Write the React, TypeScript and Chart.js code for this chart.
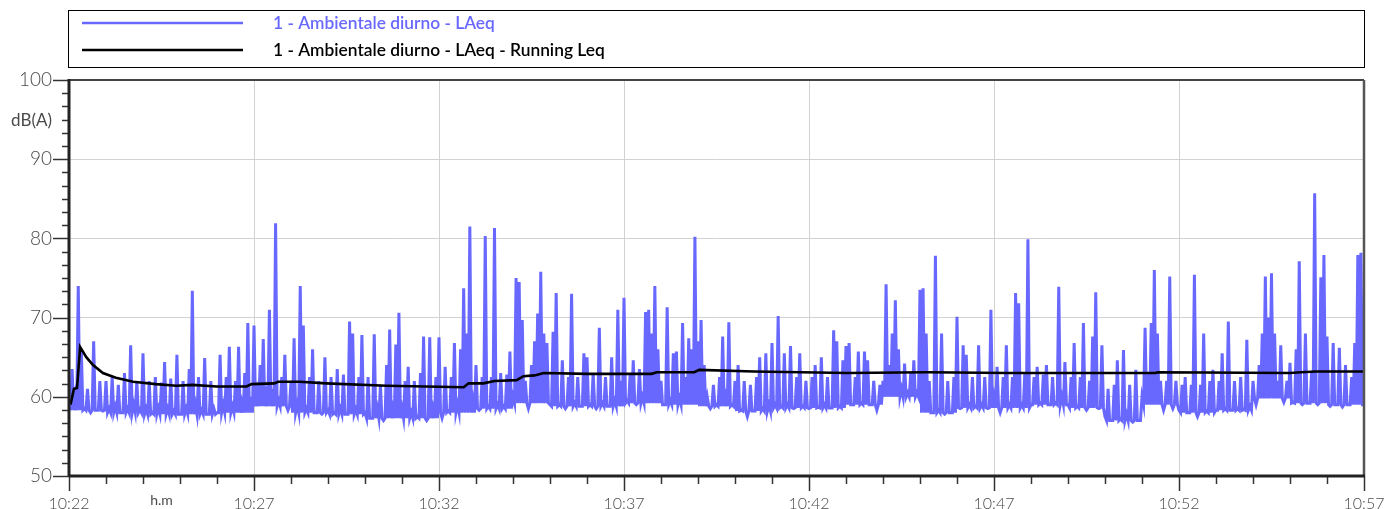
import { useEffect, useRef } from "react";
import { Chart, registerables } from "chart.js";

Chart.register(...registerables);

// ---- data ----
const startHour = 10;
const startMinute = 22;
const sampleStepSeconds = 5;
const xMaxSeconds = 2100;
const yMin = 50;
const yMax = 100;
const yMajorStep = 10;
const yMinorPerMajor = 6;
const xMinorSeconds = 60;
const xMajorSeconds = 300;

const laeqLabel = "1 - Ambientale diurno - LAeq";
const runningLabel = "1 - Ambientale diurno - LAeq - Running Leq";
const yUnitLabel = "dB(A)";
const xUnitLabel = "h.m";

// LAeq readings every 5 s, one row per minute (10:22 ... 10:56) + final reading at 10:57
const laeqValues = [
  59.5, 63.5, 60, 74, 66, 58.5, 61, 58, 67, 58.3, 62, 58.2,
  62, 58.5, 62.5, 58.8, 61.5, 58, 63, 58.5, 66.5, 59, 62, 58.4,
  65.5, 58.5, 62, 58, 62.5, 58.6, 61.8, 64.4, 58.5, 62.3, 58.2, 65.3,
  57.8, 62, 58.5, 63.5, 73.4, 59, 62.5, 58.3, 64.9, 57.8, 62, 58.5,
  58, 65.3, 59, 62.5, 66.3, 58.8, 62, 66.3, 59.2, 63, 69.3, 60,
  69, 60.5, 64, 67.3, 60.2, 71, 61, 81.9, 59.5, 62.5, 65.3, 58.3,
  62, 67.4, 59, 74, 69, 58.5, 62.5, 66, 58, 62, 57.8, 65,
  58.3, 62.5, 58, 63.5, 58.5, 62.8, 57.8, 69.5, 68, 58.4, 62.5, 67.8,
  58, 62.5, 57.3, 67.9, 58.5, 61.5, 57, 64, 68.5, 58.5, 66.6, 70.6,
  58.5, 62, 63.8, 58, 62, 57.5, 63, 67.6, 57, 67.5, 58.5, 62.5,
  67.5, 57.3, 63.8, 58.2, 62.5, 66.8, 59, 66, 73.7, 68, 81.5, 59.5,
  64, 58.3, 62.5, 80.3, 58.8, 62.5, 81.3, 59, 63, 58.8, 62.8, 65.7,
  60, 75, 74.5, 69.7, 62, 58.5, 64, 67, 70.5, 75.8, 68, 66.8,
  59, 68.2, 73.1, 59, 64.6, 58.5, 62.5, 73, 59.2, 62.5, 58.8, 65.5,
  65, 59, 63, 58.5, 68.7, 59.2, 62.5, 58.8, 65, 59.5, 71, 62,
  72.5, 59.5, 63, 64.6, 59, 63.5, 60, 70.7, 71, 68, 74, 66,
  62, 59, 71.3, 59.5, 65.5, 65.7, 59.8, 69.3, 62.5, 67.4, 66, 80.2,
  67, 69.7, 64, 60, 58.5, 61.5, 59, 62.5, 67.6, 60, 69.4, 59,
  62, 64, 58.3, 62, 57.5, 61.5, 58.2, 62.5, 65, 58.5, 65.5, 59,
  66.8, 59, 70.2, 58.8, 65.5, 59, 66.4, 58.5, 62.5, 65.5, 58.8, 62,
  58.5, 62.5, 64, 58.7, 65, 59, 62.5, 58.6, 68.4, 67, 58.8, 64.6,
  66.4, 66.8, 59, 62.5, 65.7, 59.2, 65.7, 64.6, 59, 62, 58.3, 61.5,
  62, 74.2, 64, 68, 72.2, 66, 61, 64.2, 60.5, 63, 64.6, 60.5,
  73.5, 73.7, 68, 62, 58, 77.8, 58.3, 68, 57.8, 62, 58, 62.5,
  70.1, 58.5, 66.5, 65.3, 59, 62.5, 58.8, 66.5, 59, 62.5, 58.5, 71,
  60, 63.8, 58, 62.5, 66.5, 59, 62.5, 73.1, 71.8, 59, 63, 79.9,
  59, 62.5, 63.8, 59.2, 62.8, 64, 59, 62.5, 59.2, 73.9, 60, 64.4,
  59, 62.5, 66.8, 58.8, 62.5, 69.3, 58.3, 62, 67.6, 73.2, 58.5, 66.5,
  57.5, 61, 57, 61.5, 64.6, 57.2, 65.9, 57.8, 61.5, 56.8, 63.4, 57,
  60, 68.7, 63, 69.3, 76, 68, 62, 58.3, 62, 75.2, 58.5, 62,
  58.3, 61.5, 62.5, 58, 61.5, 75.4, 57.5, 61.5, 68, 58.2, 62, 63.4,
  58.3, 62, 65.5, 58.5, 69.5, 58.3, 62, 58.5, 62.5, 58.4, 67.2, 58.8,
  62, 59, 64, 68, 75.2, 70, 75.6, 68, 62, 66.5, 59.3, 62,
  64.3, 59.3, 66, 77.1, 59, 68, 59.2, 63, 85.7, 59, 75.1, 77.9,
  67.6, 58.8, 66.8, 59, 66.2, 58.7, 64, 59, 62.5, 66.8, 77.9, 78.2,
  59,
];

// Lowest LAeq level reached within each minute (fast readings between the 5 s values)
const laeqMinuteFloor = [
  58.3, 58.0, 57.8, 57.8, 58.0, 58.8, 58.0, 57.8, 57.3, 57.3,
  58.0, 58.5, 59.2, 58.8, 58.8, 59.2, 59.0, 58.8, 58.2, 58.6,
  58.6, 59.0, 60.0, 58.0, 58.6, 58.6, 59.0, 58.6, 57.0, 59.0,
  58.0, 58.3, 59.8, 59.2, 59.0,
];

// Running Leq: time (s from 10:22) and level
const runningTimes = [
  0, 3, 8, 13, 18, 28, 39, 55, 76, 104, 141, 174, 200, 239, 288, 296, 333, 339, 374, 417,
  515, 640, 648, 672, 690, 726, 737, 755, 770, 840, 945, 953, 1014, 1022, 1111, 1262,
  1392, 1522, 1684, 1762, 1766, 1980, 1998, 2022, 2100,
];
const runningValues = [
  59.3, 59.2, 61, 61.1, 66.3, 65, 64, 63, 62.4, 61.9, 61.6, 61.4, 61.5, 61.3, 61.3, 61.6, 61.7, 61.9, 61.9, 61.7,
  61.4, 61.2, 61.7, 61.7, 62, 62.1, 62.6, 62.7, 63, 62.9, 62.9, 63.1, 63.1, 63.4, 63.2, 63.0,
  63.1, 63.0, 63.0, 63.0, 63.1, 63.0, 63.1, 63.2, 63.2,
];

// ---- style ----
const blue = "rgb(104,104,255)";
const black = "#000000";
const gridColor = "#d2d2d2";
const tickTextColor = "#4a4a4a";
const fontFamily = "Lato, 'DejaVu Sans', sans-serif";

function fmtTime(seconds: number): string {
  const total = startHour * 60 + startMinute + Math.round(seconds / 60);
  const h = Math.floor(total / 60);
  const m = total % 60;
  return `${h}:${m < 10 ? "0" + m : m}`;
}

function yTickValues(): number[] {
  const out: number[] = [];
  const n = ((yMax - yMin) / yMajorStep) * yMinorPerMajor;
  for (let k = 0; k <= n; k++) out.push(yMin + (k * yMajorStep) / yMinorPerMajor);
  return out;
}
function isYMajor(v: number): boolean {
  const r = Math.round(v);
  return Math.abs(v - r) < 1e-6 && r % yMajorStep === 0;
}
function xTickValues(): number[] {
  const out: number[] = [];
  for (let s = 0; s <= xMaxSeconds; s += xMinorSeconds) out.push(s);
  return out;
}
function isXMajor(v: number): boolean {
  return Math.round(v) % xMajorSeconds === 0;
}

function fitFont(ctx: CanvasRenderingContext2D, text: string, weight: string, target: number): string {
  ctx.font = `${weight} 20px ${fontFamily}`;
  const w = ctx.measureText(text).width || target;
  const size = (20 * target) / w;
  return `${weight} ${size.toFixed(2)}px ${fontFamily}`;
}

const overlayPlugin = {
  id: "overlay",
  afterDraw(chart: any) {
    const ctx: CanvasRenderingContext2D = chart.ctx;
    const { left, right, top, bottom } = chart.chartArea;
    const xs = chart.scales.x;
    const ys = chart.scales.y;
    ctx.save();

    // ticks on y
    ctx.strokeStyle = "#333";
    ctx.lineWidth = 1.5;
    for (const t of ys.ticks) {
      const y = Math.round(ys.getPixelForValue(t.value)) + 0.5;
      const len = isYMajor(t.value) ? 16 : 7;
      ctx.beginPath();
      ctx.moveTo(left - len, y);
      ctx.lineTo(left, y);
      ctx.stroke();
    }
    // ticks on x
    for (const t of xs.ticks) {
      const x = Math.round(xs.getPixelForValue(t.value)) + 0.5;
      const len = isXMajor(t.value) ? 15 : 8;
      ctx.beginPath();
      ctx.moveTo(x, bottom);
      ctx.lineTo(x, bottom + len);
      ctx.stroke();
    }

    // frame
    ctx.strokeStyle = "#444";
    ctx.lineWidth = 2;
    ctx.beginPath();
    ctx.moveTo(left, top);
    ctx.lineTo(right, top);
    ctx.stroke();
    ctx.strokeStyle = "#555";
    ctx.lineWidth = 2.5;
    ctx.beginPath();
    ctx.moveTo(right, top);
    ctx.lineTo(right, bottom);
    ctx.stroke();
    ctx.strokeStyle = "#222";
    ctx.lineWidth = 3;
    ctx.beginPath();
    ctx.moveTo(left, top - 1);
    ctx.lineTo(left, bottom + 1);
    ctx.moveTo(left, bottom);
    ctx.lineTo(right + 1, bottom);
    ctx.stroke();

    // unit labels
    ctx.fillStyle = tickTextColor;
    ctx.font = `17px ${fontFamily}`;
    ctx.textAlign = "right";
    ctx.textBaseline = "middle";
    ctx.fillText(yUnitLabel, left - 17, 121);
    ctx.textAlign = "center";
    ctx.font = `14px ${fontFamily}`;
    ctx.fillText(xUnitLabel, xs.getPixelForValue(150), 500);

    // legend box
    const bx = left - 0.5;
    const by = 10.5;
    const bw = right - left + 1;
    const bh = 57;
    ctx.fillStyle = "#fff";
    ctx.fillRect(bx, by, bw, bh);
    ctx.strokeStyle = "#000";
    ctx.lineWidth = 1;
    ctx.strokeRect(bx, by, bw, bh);

    const rows = [
      { label: laeqLabel, color: blue, y: 23 },
      { label: runningLabel, color: black, y: 50 },
    ];
    const legendFont = fitFont(ctx, laeqLabel, "600", 222);
    ctx.textAlign = "left";
    ctx.textBaseline = "middle";
    for (const r of rows) {
      ctx.strokeStyle = r.color;
      ctx.lineWidth = 2.5;
      ctx.beginPath();
      ctx.moveTo(82, r.y);
      ctx.lineTo(243, r.y);
      ctx.stroke();
      ctx.font = legendFont;
      ctx.fillStyle = r.color;
      ctx.fillText(r.label, 273, r.y);
    }
    ctx.restore();
  },
};

export default function App() {
  const canvasRef = useRef<HTMLCanvasElement | null>(null);

  useEffect(() => {
    document.body.style.margin = "0";
    const canvas = canvasRef.current;
    if (!canvas) return;

    // each 5 s reading followed by the minute's floor level half-way to the next reading
    const laeqPoints: { x: number; y: number }[] = [];
    laeqValues.forEach((v, i) => {
      const t = i * sampleStepSeconds;
      laeqPoints.push({ x: t, y: v });
      if (i < laeqValues.length - 1) {
        const minute = Math.floor(t / 60);
        laeqPoints.push({ x: t + sampleStepSeconds / 2, y: laeqMinuteFloor[minute] });
      }
    });
    const runningPoints = runningValues.map((v, i) => ({ x: runningTimes[i], y: v }));

    const chart = new Chart(canvas, {
      type: "line",
      data: {
        datasets: [
          {
            label: runningLabel,
            data: runningPoints,
            borderColor: black,
            backgroundColor: black,
            borderWidth: 2.6,
            pointRadius: 0,
            tension: 0,
            order: 0,
          },
          {
            label: laeqLabel,
            data: laeqPoints,
            borderColor: blue,
            backgroundColor: blue,
            borderWidth: 3,
            borderJoinStyle: "miter",
            pointRadius: 0,
            tension: 0,
            order: 1,
          },
        ],
      },
      options: {
        animation: false,
        responsive: false,
        devicePixelRatio: 1,
        parsing: false as any,
        normalized: true,
        layout: { padding: { top: 80, right: 22, left: 0, bottom: 0 } },
        plugins: {
          legend: { display: false },
          tooltip: { enabled: false },
          title: { display: false },
        },
        scales: {
          x: {
            type: "linear",
            min: 0,
            max: xMaxSeconds,
            afterBuildTicks: (scale: any) => {
              scale.ticks = xTickValues().map((v) => ({ value: v }));
            },
            afterFit: (scale: any) => {
              scale.height = 33;
              scale.paddingLeft = 0;
              scale.paddingRight = 0;
            },
            ticks: {
              autoSkip: false,
              maxRotation: 0,
              minRotation: 0,
              padding: 18,
              color: tickTextColor,
              font: { family: fontFamily, size: 16, weight: "300" as any },
              callback: (v: any) => (isXMajor(Number(v)) ? fmtTime(Number(v)) : ""),
            },
            grid: {
              drawTicks: false,
              color: (c: any) => (c.tick && isXMajor(c.tick.value) ? gridColor : "rgba(0,0,0,0)"),
              lineWidth: 1,
            },
            border: { display: false },
          },
          y: {
            type: "linear",
            min: yMin,
            max: yMax,
            afterBuildTicks: (scale: any) => {
              scale.ticks = yTickValues().map((v) => ({ value: v }));
            },
            afterFit: (scale: any) => {
              scale.width = 69;
              scale.paddingTop = 0;
              scale.paddingBottom = 0;
            },
            ticks: {
              autoSkip: false,
              padding: 17,
              color: tickTextColor,
              font: { family: fontFamily, size: 19, weight: "300" as any },
              callback: (v: any) => (isYMajor(Number(v)) ? String(Math.round(Number(v))) : ""),
            },
            grid: {
              drawTicks: false,
              color: (c: any) => (c.tick && isYMajor(c.tick.value) ? gridColor : "rgba(0,0,0,0)"),
              lineWidth: 1,
            },
            border: { display: false },
          },
        },
      },
      plugins: [overlayPlugin],
    });

    return () => chart.destroy();
  }, []);

  return (
    <div style={{ width: 1386, height: 509, background: "#fff" }}>
      <canvas ref={canvasRef} width={1386} height={509} style={{ display: "block" }} />
    </div>
  );
}
